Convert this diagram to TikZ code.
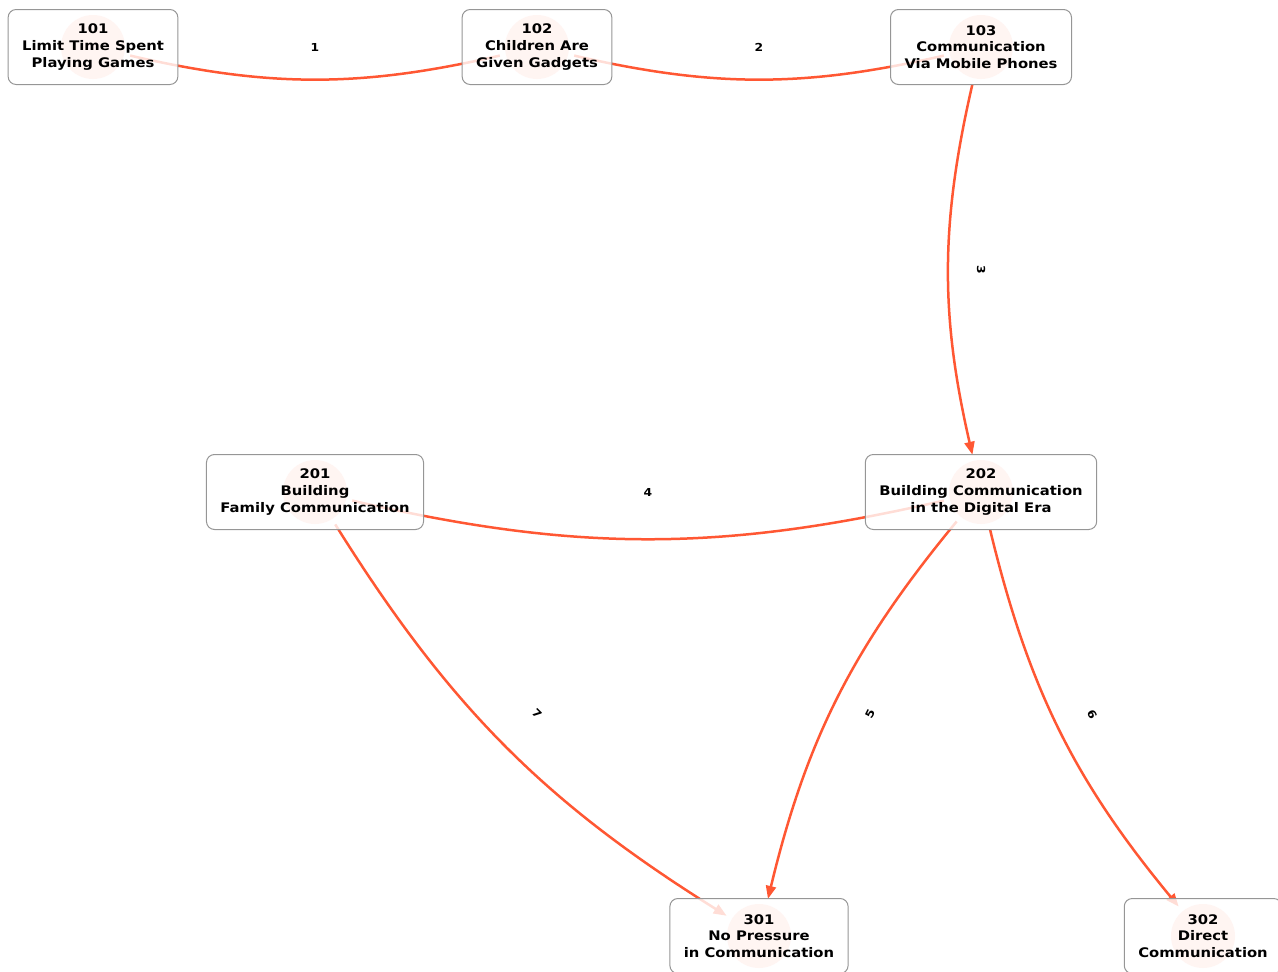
\documentclass[tikz,border=0pt]{standalone}
\usepackage{fontspec}
\newfontfamily\cardfont[FakeStretch=1.12]{DejaVu Sans}
\usetikzlibrary{arrows.meta}
\definecolor{edgered}{RGB}{255,87,51}
\definecolor{cardgray}{RGB}{150,150,150}
\tikzset{
	dot/.style={circle, fill=edgered!30, minimum size=64pt, inner sep=0pt},
	card/.style={draw=cardgray, line width=1pt, rounded corners=8pt, fill=white, fill opacity=0.8, text opacity=1, align=center, inner xsep=14pt, minimum height=75pt, font=\cardfont\bfseries\fontsize{13.2}{16.8}\selectfont},
	link/.style={draw=edgered, line width=2.5pt, bend right=13, shorten >=6pt, shorten <=6pt},
	arr/.style={-{Triangle[length=13pt,width=10pt]}},
	num/.style={font=\cardfont\bfseries\fontsize{11}{13}\selectfont}
}

\begin{document}
\begin{tikzpicture}[x=1pt, y=-1pt]
			%%%%% START %%%%%
			\useasboundingbox (0, 0) rectangle (1278, 972);
			\clip (0, 0) rectangle (1278, 972);
			
			\node[dot] (c101) at (93, 47) {};
			\node[dot] (c102) at (537, 47) {};
			\node[dot] (c103) at (981, 47) {};
			\node[dot] (c201) at (315, 492) {};
			\node[dot] (c202) at (981, 492) {};
			\node[dot] (c301) at (759, 936) {};
			\node[dot] (c302) at (1203, 936) {};
			
			\draw[link] (c101) to (c102);
			\draw[link] (c102) to (c103);
			\draw[link, arr] (c103) to (c202);
			\draw[link] (c201) to (c202);
			\draw[link, arr] (c202) to (c301);
			\draw[link, arr] (c202) to (c302);
			\draw[link, arr] (c201) to (c301);
			
			\path (c101) -- node[num] {1} (c102);
			\path (c102) -- node[num] {2} (c103);
			\path (c103) -- node[num, rotate=-90] {3} (c202);
			\path (c201) -- node[num] {4} (c202);
			\path (c202) -- node[num, rotate=63] {5} (c301);
			\path (c202) -- node[num, rotate=-63] {6} (c302);
			\path (c201) -- node[num, rotate=-45] {7} (c301);
			
			\node[card] (b101) at (93, 47) {101\\Limit Time Spent\\Playing Games};
			\node[card] (b102) at (537, 47) {102\\Children Are\\Given Gadgets};
			\node[card] (b103) at (981, 47) {103\\Communication\\Via Mobile Phones};
			\node[card] (b201) at (315, 492) {201\\Building\\Family Communication};
			\node[card] (b202) at (981, 492) {202\\Building Communication\\in the Digital Era};
			\node[card] (b301) at (759, 936) {301\\No Pressure\\in Communication};
			\node[card] (b302) at (1203, 936) {302\\Direct\\Communication};
			
			%%%%% END %%%%%
\end{tikzpicture}
\end{document}
